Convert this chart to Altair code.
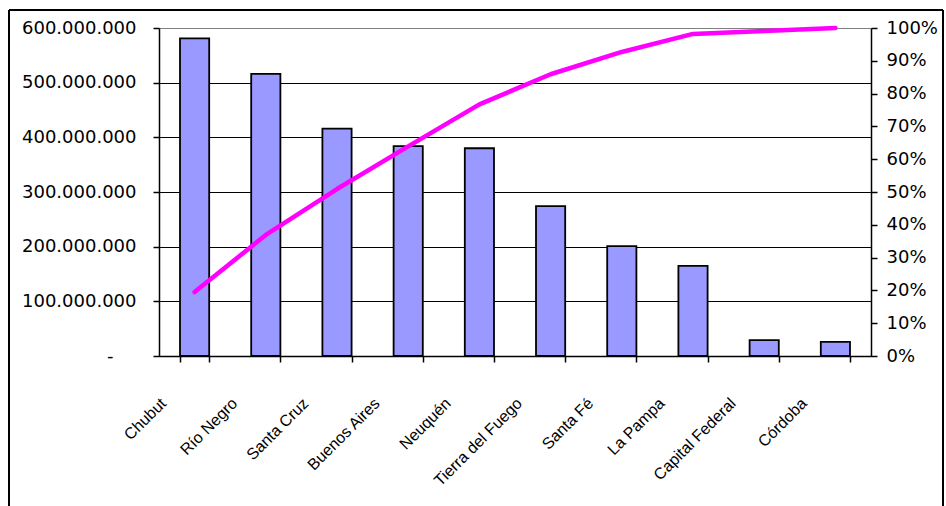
import altair as alt
import pandas as pd

regions = ["Chubut", "Río Negro", "Santa Cruz", "Buenos Aires", "Neuquén",
           "Tierra del Fuego", "Santa Fé", "La Pampa", "Capital Federal", "Córdoba"]
amounts = [581e6, 516e6, 416e6, 384e6, 380e6, 274e6, 201e6, 165e6, 29e6, 26e6]
cumulative = [0.195, 0.369, 0.509, 0.639, 0.767, 0.859, 0.927, 0.982, 0.991, 1.0]
left_ticks = [0, 1e8, 2e8, 3e8, 4e8, 5e8, 6e8]
right_ticks = [i / 10 for i in range(11)]

df = pd.DataFrame({"region": regions, "amount": amounts, "cum": cumulative})

num_font = "DejaVu Sans"
lab_font = "Liberation Sans"

x = alt.X(
    "region:N", sort=regions, title=None,
    scale=alt.Scale(paddingInner=0.59, paddingOuter=0.295),
    axis=alt.Axis(
        tickBand="extent", domainColor="black", domainWidth=1.5,
        tickColor="black", tickWidth=1.5, tickSize=6,
        labelAngle=-45, labelAlign="right", labelBaseline="alphabetic",
        labelOffset=-28, labelPadding=42, labelFont=lab_font,
        labelFontSize=16, labelColor="black", grid=False,
    ),
)

bars = alt.Chart(df).mark_bar(
    color="#9999FF", stroke="black", strokeWidth=1.8
).encode(
    x=x,
    y=alt.Y(
        "amount:Q", title=None,
        scale=alt.Scale(domain=[0, 6e8], nice=False),
        axis=alt.Axis(
            values=left_ticks, orient="left",
            labelExpr="datum.value == 0 ? '-' : format(datum.value / 1e6, '.0f') + '.000.000'",
            labelFont=num_font, labelFontSize=18, labelColor="black",
            labelPadding={"condition": {"test": "datum.value == 0", "value": 40}, "value": 17},
            tickSize=6, tickColor="black", tickWidth=1.5,
            domainColor="black", domainWidth=1.5,
            grid=True, gridWidth=1.2,
            gridColor={"condition": {"test": "datum.value == 600000000", "value": "#808080"},
                       "value": "black"},
        ),
    ),
)

line = alt.Chart(df).mark_line(
    color="#FF00FF", strokeWidth=4.5, strokeCap="round", strokeJoin="round"
).encode(
    x=x,
    y=alt.Y(
        "cum:Q", title=None,
        scale=alt.Scale(domain=[0, 1], nice=False),
        axis=alt.Axis(
            values=right_ticks, orient="right", format=".0%",
            labelFont=num_font, labelFontSize=18, labelColor="black",
            labelPadding=9, tickSize=6, tickColor="black", tickWidth=1.5,
            domainColor="black", domainWidth=1.5, grid=False,
        ),
    ),
)

frame_data = alt.Data(values=[{}])
frame_left = alt.Chart(frame_data).mark_rule(color="black", strokeWidth=2).encode(
    x=alt.value(-150), y=alt.value(-18), y2=alt.value(520))
frame_right = alt.Chart(frame_data).mark_rule(color="black", strokeWidth=2).encode(
    x=alt.value(784), y=alt.value(-18), y2=alt.value(520))
frame_top = alt.Chart(frame_data).mark_rule(color="black", strokeWidth=2).encode(
    x=alt.value(-150), x2=alt.value(784), y=alt.value(-18))

chart = alt.layer(bars, line, frame_left, frame_right, frame_top).resolve_scale(
    y="independent"
).properties(
    width=712, height=328,
    autosize=alt.AutoSizeParams(type="none"),
    padding={"left": 159, "top": 28, "right": 75, "bottom": 150},
    background="white",
).configure_view(stroke=None)

chart.save("out.html", embed_options={"renderer": "svg", "actions": False})
